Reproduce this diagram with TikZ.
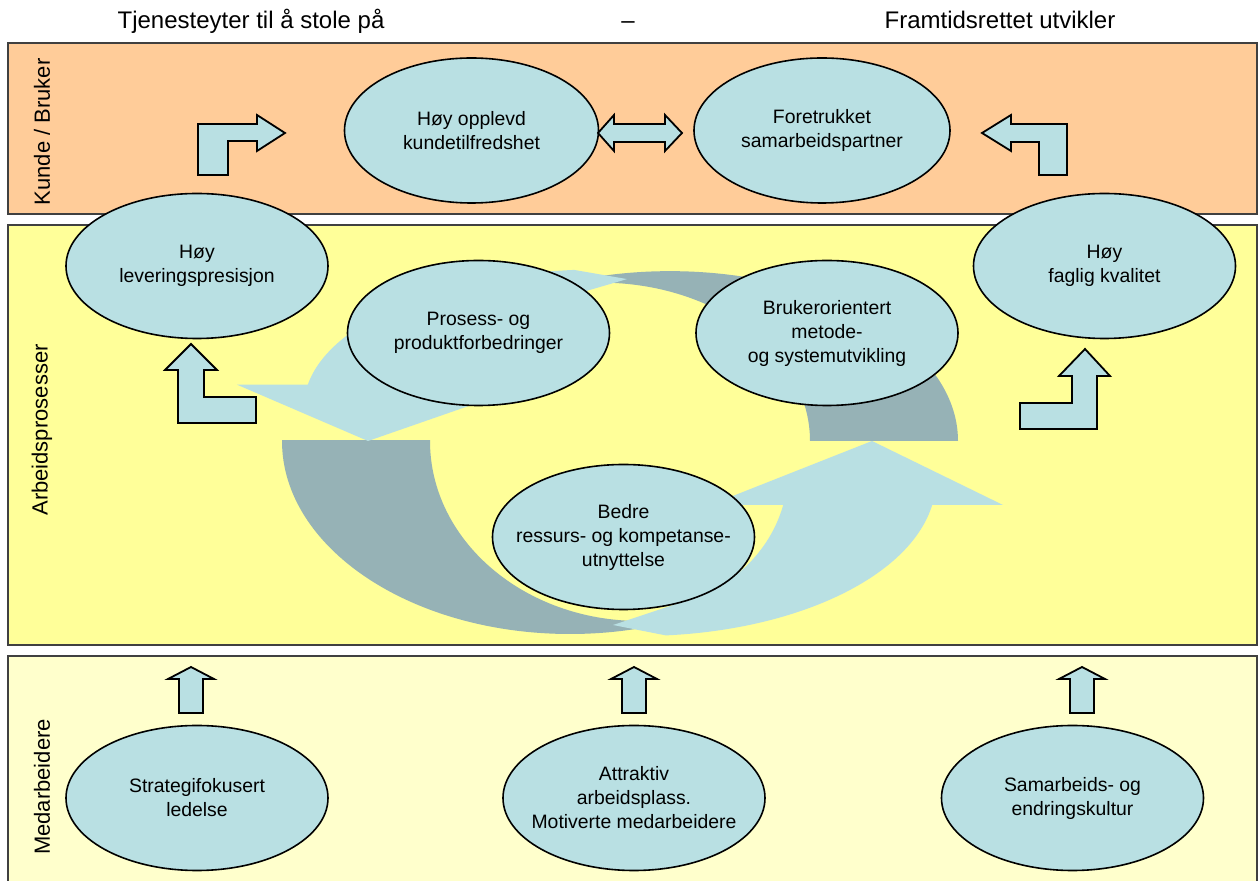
\documentclass[tikz,border=0pt]{standalone}
\usepackage{fontspec}
\setmainfont{Liberation Sans}
\usetikzlibrary{shapes.geometric}
\definecolor{peach}{HTML}{FFCC99}
\definecolor{lemon}{HTML}{FFFF99}
\definecolor{cream}{HTML}{FFFFCC}
\definecolor{aqua}{HTML}{B9E0E3}
\definecolor{slate}{HTML}{96B2B6}

% lower half of the cycle, in pixel coordinates
\newcommand{\darkarc}{%
  \begin{scope}
    \clip (270,441) rectangle (700,660);
    \fill[slate, even odd rule] (570,441) ellipse [x radius=288, y radius=193]
                                (640,441) ellipse [x radius=210, y radius=180];
  \end{scope}}
\newcommand{\lightarc}{%
  \fill[aqua] (613,625) -- (665.8,635.4)
    arc[start angle=85, end angle=9.2, x radius=296, y radius=156]
    -- (1003,505) -- (872,441) -- (710,505) -- (783.2,505)
    arc[start angle=14.7, end angle=75, x radius=148, y radius=138] -- cycle;}

\begin{document}
\begin{tikzpicture}[x=0.5pt, y=-0.5pt,
  band/.style={draw=black!75, line width=0.75pt},
  goal/.style={ellipse, draw=black, line width=0.8pt, fill=aqua,
    minimum width=131pt, minimum height=72.5pt, inner xsep=-12pt, inner ysep=0pt,
    align=center, font=\fontsize{9.7}{12}\selectfont},
  blockarrow/.style={draw=black, line width=0.9pt, fill=aqua, line join=miter},
  sidelabel/.style={rotate=90, font=\fontsize{11}{13}\selectfont},
  headline/.style={anchor=base, font=\fontsize{12}{14}\selectfont}]
\useasboundingbox (0,0) rectangle (1260,881);
\clip (0,0) rectangle (1260,881);

% bands
\draw[band, fill=peach] (8,43) rectangle (1257,214);
\draw[band, fill=lemon] (8,225) rectangle (1257,645);
\draw[band, fill=cream] (8,656) rectangle (1257,900);

% headings
\node[headline] (trust) at (251,29) {Tjenesteyter til å stole på};
\node[headline] (dash) at (628,29) {–};
\node[headline] (future) at (1000,29) {Framtidsrettet utvikler};

\node[sidelabel] (kunde) at (42,132) {Kunde / Bruker};
\node[sidelabel] (arbeid) at (42,430) {Arbeidsprosesser};
\node[sidelabel] (medarb) at (42,787) {Medarbeidere};

% cycle arrows
\darkarc
\begin{scope}[shift={(1240,829.08)}, xscale=-1, yscale=-0.88]
  \darkarc
\end{scope}
\lightarc
\begin{scope}[shift={(1240,829.08)}, xscale=-1, yscale=-0.88]
  \lightarc
\end{scope}

% ellipses
\node[goal, minimum width=127pt] (tilfreds) at (471.5,130.5) {Høy opplevd\\kundetilfredshet};
\node[goal, minimum width=128pt] (partner) at (822,130.5) {Foretrukket\\samarbeidspartner};
\node[goal] (presisjon) at (197,266) {Høy\\leveringspresisjon};
\node[goal] (kvalitet) at (1104.5,266) {Høy\\faglig kvalitet};
\node[goal] (forbedring) at (478.5,333) {Prosess- og\\produktforbedringer};
\node[goal] (metode) at (827,333) {Brukerorientert\\metode-\\og systemutvikling};
\node[goal] (ressurs) at (623.5,537) {Bedre\\ressurs- og kompetanse-\\utnyttelse};
\node[goal] (ledelse) at (197,798) {Strategifokusert\\ledelse};
\node[goal] (arbeidsplass) at (634,798) {Attraktiv\\arbeidsplass.\\Motiverte medarbeidere};
\node[goal] (kultur) at (1072.5,798) {Samarbeids- og\\endringskultur};

% block arrows
\draw[blockarrow] (198,175) -- (198,124) -- (257,124) -- (257,115) -- (285,133)
  -- (257,151) -- (257,141) -- (228,141) -- (228,175) -- cycle;
\draw[blockarrow] (1067,175) -- (1067,124) -- (1011,124) -- (1011,115) -- (982,133)
  -- (1011,151) -- (1011,142) -- (1039,142) -- (1039,175) -- cycle;
\draw[blockarrow] (598,133) -- (614,115) -- (614,124) -- (665,124) -- (665,115)
  -- (682,133) -- (665,151) -- (665,142) -- (614,142) -- (614,151) -- cycle;
\draw[blockarrow] (191,344) -- (217,370) -- (204,370) -- (204,397) -- (256,397)
  -- (256,423) -- (178,423) -- (178,370) -- (165,370) -- cycle;
\draw[blockarrow] (1085,349) -- (1110,376) -- (1097,376) -- (1097,429) -- (1020,429)
  -- (1020,403) -- (1072,403) -- (1072,376) -- (1059,376) -- cycle;
\foreach \cx in {191,634,1082}
  \draw[blockarrow] (\cx,667) -- ++(23,12) -- ++(-11,0) -- ++(0,34) -- ++(-24,0)
    -- ++(0,-34) -- ++(-11,0) -- cycle;
\end{tikzpicture}
\end{document}
